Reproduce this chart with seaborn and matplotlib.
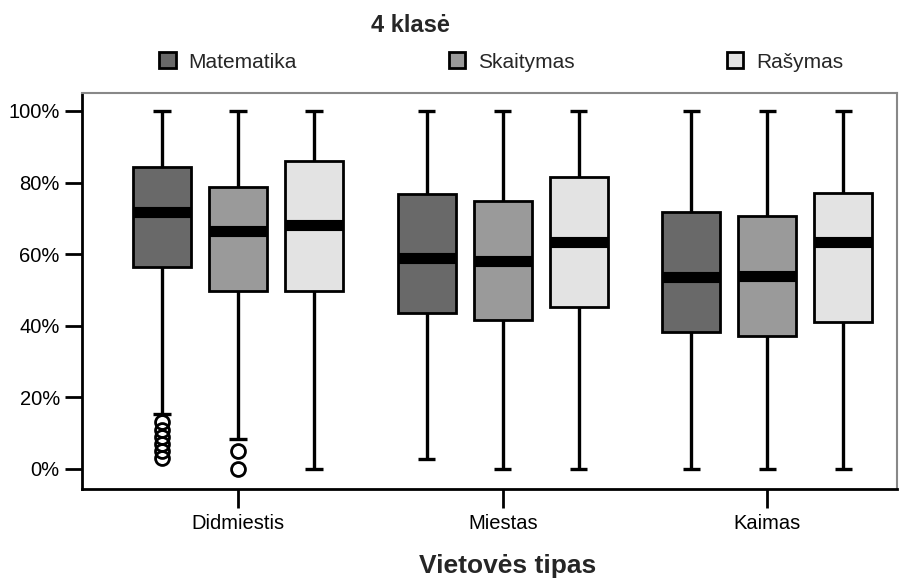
import matplotlib.pyplot as plt
import seaborn as sns
import pandas as pd
import numpy as np
from matplotlib.ticker import FuncFormatter

# Values (percent)
places = ['Didmiestis', 'Miestas', 'Kaimas']
subjects = ['Matematika', 'Skaitymas', 'Rašymas']
colors = ['#696969', '#9a9a9a', '#e3e3e3']

# per place, per subject
whis_low = [[15.4, 8.4, 0], [2.8, 0, 0], [0, 0, 0]]
q1 = [[56.4, 49.7, 49.7], [43.6, 41.6, 45.3], [38.3, 37.2, 41.0]]
median = [[71.8, 66.5, 68.2], [59.0, 58.1, 63.4], [53.6, 53.9, 63.4]]
q3 = [[84.4, 78.8, 86.0], [76.8, 74.9, 81.6], [71.8, 70.7, 77.1]]
whis_high = [[100, 100, 100], [100, 100, 100], [100, 100, 100]]
outliers_low = {('Didmiestis', 'Matematika'): [3, 5, 7, 9, 11, 13],
                ('Didmiestis', 'Skaitymas'): [0, 5]}


def make_sample(lo, a, m, b, hi, low_out):
    # small sample whose quartiles / whiskers give exactly the read values
    low = sorted(low_out) + [lo]
    k = len(low)
    n = max(k, 1)
    vals = low + [a] * (n - k + 1) + [a] * (n - 1) + [m] + [b] * (n - 1) + [b]
    vals += [b] * (n - 1) + [hi]
    return vals


rows = []
for i, place in enumerate(places):
    for j, subj in enumerate(subjects):
        vals = make_sample(whis_low[i][j], q1[i][j], median[i][j], q3[i][j],
                           whis_high[i][j], outliers_low.get((place, subj), []))
        rows += [(place, subj, v) for v in vals]
df = pd.DataFrame(rows, columns=['place', 'subject', 'score'])

sns.set_style("white")
plt.rcParams['font.family'] = ['Liberation Sans', 'DejaVu Sans']

fig = plt.figure(figsize=(9.11, 5.84), dpi=100)
ax = fig.add_axes([82 / 911, 1 - 489 / 584, 815 / 911, 396 / 584])

sns.boxplot(data=df, x='place', y='score', hue='subject', order=places,
            hue_order=subjects, palette=colors, saturation=1, width=0.862,
            gap=0.237, whis=1.5, linecolor='black', linewidth=2, ax=ax,
            medianprops=dict(color='black', linewidth=8, solid_capstyle='butt'),
            whiskerprops=dict(linewidth=2.4),
            capprops=dict(linewidth=2.4, solid_capstyle='butt'),
            flierprops=dict(marker='o', markerfacecolor='none',
                            markeredgecolor='black', markeredgewidth=2,
                            markersize=10))

# narrower whisker caps (about a third of the box), like the original
for line in ax.lines:
    xs = np.asarray(line.get_xdata(), dtype=float)
    ys = np.asarray(line.get_ydata(), dtype=float)
    if len(xs) == 2 and np.isclose(ys[0], ys[1]) and line.get_linewidth() < 5:
        mid = xs.mean()
        half = abs(xs[1] - xs[0]) * 0.3
        line.set_data([mid - half, mid + half], ys)

ax.set_xlim(-0.59, 2.49)
ax.set_ylim(-5.6, 105)
ax.set_yticks([0, 20, 40, 60, 80, 100])
ax.yaxis.set_major_formatter(FuncFormatter(lambda v, p: f'{v:.0f}%'))
ax.set_xlabel('')
ax.set_ylabel('')
ax.tick_params(axis='both', labelsize=14.5, colors='black', length=12,
               width=2, direction='out', left=True, bottom=True, pad=4)
ax.tick_params(axis='x', length=14)
for side in ['left', 'bottom']:
    ax.spines[side].set_color('black')
    ax.spines[side].set_linewidth(2)
for side in ['top', 'right']:
    ax.spines[side].set_color('#888888')
    ax.spines[side].set_linewidth(1.5)

handles, labels = ax.get_legend_handles_labels()
ax.get_legend().remove()
fig.legend(handles, labels, loc='center', bbox_to_anchor=(501 / 911, 1 - 62 / 584),
           ncol=3, frameon=False, fontsize=15, handlelength=0.8,
           handleheight=0.8, handletextpad=0.6, columnspacing=7.3)

fig.text(410 / 911, 1 - 26 / 584, '4 klasė', ha='center', va='center',
         fontsize=17, fontweight='bold')
fig.text(508 / 911, 1 - 566 / 584, 'Vietovės tipas', ha='center', va='center',
         fontsize=19, fontweight='bold')

fig.savefig('out.png', dpi=100)
